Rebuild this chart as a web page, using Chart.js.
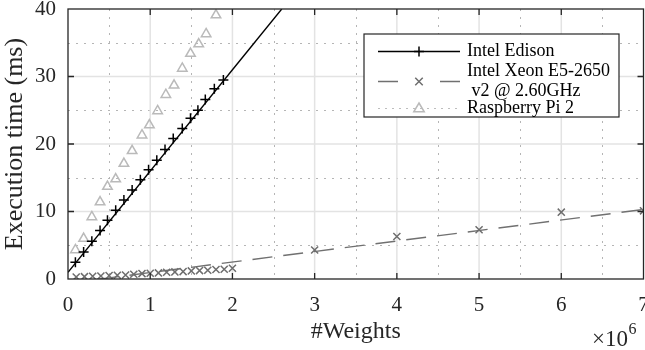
<!DOCTYPE html>
<html>
<head>
<meta charset="utf-8">
<script src="https://cdn.jsdelivr.net/npm/chart.js@4/dist/chart.umd.min.js"></script>
<style>
  html, body { margin: 0; padding: 0; background: #fff; }
  #wrap { width: 645px; height: 350px; }
</style>
</head>
<body>
<div id="wrap"><canvas id="chart" width="645" height="350"></canvas></div>
<script>
// Data (x in millions of weights, y in ms)
const edisonWeights = [0.09, 0.19, 0.29, 0.39, 0.48, 0.58, 0.68, 0.78, 0.88, 0.98, 1.08, 1.18, 1.28, 1.39, 1.49, 1.58, 1.67, 1.78, 1.89];
const edisonTime    = [2.5, 4.0, 5.6, 7.2, 8.7, 10.2, 11.7, 13.2, 14.7, 16.2, 17.6, 19.2, 20.8, 22.3, 23.8, 25.0, 26.6, 28.2, 29.5];

const xeonWeights = [0.1, 0.2, 0.3, 0.4, 0.5, 0.6, 0.7, 0.8, 0.9, 1.0, 1.1, 1.2, 1.3, 1.4, 1.5, 1.6, 1.7, 1.8, 1.9, 2.0, 3, 4, 5, 6, 7];
const xeonTime    = [0.3, 0.35, 0.4, 0.45, 0.5, 0.55, 0.6, 0.7, 0.8, 0.85, 0.9, 1.0, 1.05, 1.1, 1.2, 1.25, 1.3, 1.4, 1.45, 1.6, 4.3, 6.3, 7.3, 9.9, 10.1];

const piWeights = [0.09, 0.19, 0.29, 0.39, 0.48, 0.58, 0.68, 0.78, 0.90, 0.99, 1.09, 1.19, 1.29, 1.39, 1.49, 1.59, 1.68, 1.80];
const piTime    = [4.3, 6.0, 9.2, 11.4, 13.7, 14.8, 17.1, 19.0, 21.3, 22.8, 24.9, 27.3, 28.7, 31.2, 33.4, 34.8, 36.3, 39.1];

// linear fits drawn in the figure (end points)
const edisonFitX = [0, 2.6];
const edisonFitY = [1.0, 40];
const xeonFitX = [0, 7];
const xeonFitY = [-0.6, 10.3];

const xTickLabels = ['0', '1', '2', '3', '4', '5', '6', '7'];
const yTickLabels = ['0', '10', '20', '30', '40'];
const seriesLabels = ['Intel Edison', 'Intel Xeon E5-2650\n v2 @ 2.60GHz', 'Raspberry Pi 2'];

const FONT = "'Liberation Serif', 'Times New Roman', serif";
const AXIS_COLOR = '#262626';

function toPoints(xs, ys) {
    return xs.map((x, i) => ({ x: x, y: ys[i] }));
}

/**
 * Draw one legend marker by style name
 */
function drawMarker(ctx, style, x, y, r) {
    ctx.beginPath();
    if (style === 'cross') {
        ctx.moveTo(x - r, y); ctx.lineTo(x + r, y);
        ctx.moveTo(x, y - r); ctx.lineTo(x, y + r);
    } else if (style === 'crossRot') {
        const d = r * 0.75;
        ctx.moveTo(x - d, y - d); ctx.lineTo(x + d, y + d);
        ctx.moveTo(x + d, y - d); ctx.lineTo(x - d, y + d);
    } else if (style === 'triangle') {
        ctx.moveTo(x, y - r);
        ctx.lineTo(x + r * 0.95, y + r * 0.6);
        ctx.lineTo(x - r * 0.95, y + r * 0.6);
        ctx.closePath();
    }
    ctx.stroke();
}

// Grid lines (major solid, minor dotted) under the data, box + inward ticks over it
const gridPlugin = {
    id: 'matlabGrid',
    beforeDatasetsDraw(chart) {
        const { ctx, chartArea: a, scales: { x, y } } = chart;
        ctx.save();
        ctx.lineWidth = 1;
        // minor
        ctx.strokeStyle = '#b5b5b5';
        ctx.setLineDash([2, 6]);
        for (let v = 0.5; v < 7; v += 1) {
            const px = Math.round(x.getPixelForValue(v)) + 0.5;
            ctx.beginPath(); ctx.moveTo(px, a.top); ctx.lineTo(px, a.bottom); ctx.stroke();
        }
        for (let v = 5; v < 40; v += 10) {
            const py = Math.round(y.getPixelForValue(v)) + 0.5;
            ctx.beginPath(); ctx.moveTo(a.left, py); ctx.lineTo(a.right, py); ctx.stroke();
        }
        // major
        ctx.setLineDash([]);
        ctx.strokeStyle = '#e3e3e3';
        ctx.lineWidth = 1.5;
        for (let v = 1; v < 7; v++) {
            const px = x.getPixelForValue(v);
            ctx.beginPath(); ctx.moveTo(px, a.top); ctx.lineTo(px, a.bottom); ctx.stroke();
        }
        for (let v = 10; v < 40; v += 10) {
            const py = y.getPixelForValue(v);
            ctx.beginPath(); ctx.moveTo(a.left, py); ctx.lineTo(a.right, py); ctx.stroke();
        }
        ctx.restore();
    },
    afterDatasetsDraw(chart) {
        const { ctx, chartArea: a, scales: { x, y } } = chart;
        ctx.save();
        ctx.strokeStyle = AXIS_COLOR;
        ctx.lineWidth = 1.3;
        ctx.strokeRect(a.left, a.top, a.right - a.left, a.bottom - a.top);
        const tl = 6;
        ctx.beginPath();
        for (let v = 1; v < 7; v++) {
            const px = x.getPixelForValue(v);
            ctx.moveTo(px, a.bottom); ctx.lineTo(px, a.bottom - tl);
            ctx.moveTo(px, a.top); ctx.lineTo(px, a.top + tl);
        }
        for (let v = 10; v < 40; v += 10) {
            const py = y.getPixelForValue(v);
            ctx.moveTo(a.left, py); ctx.lineTo(a.left + tl, py);
            ctx.moveTo(a.right, py); ctx.lineTo(a.right - tl, py);
        }
        ctx.stroke();
        ctx.restore();
    }
};

// Boxed legend and the x10^6 exponent label
const legendPlugin = {
    id: 'boxLegend',
    afterDraw(chart) {
        const ctx = chart.ctx;
        const ds = chart.data.datasets;
        const box = { x: 364, y: 34, w: 255, h: 83 };
        ctx.save();
        ctx.fillStyle = '#fff';
        ctx.fillRect(box.x, box.y, box.w, box.h);
        ctx.strokeStyle = AXIS_COLOR;
        ctx.lineWidth = 1.2;
        ctx.strokeRect(box.x, box.y, box.w, box.h);

        const lx0 = 378, lx1 = 460, mx = 419, tx = 467;
        const rows = [
            { ds: ds[0], y: 51.5, lines: [51.5] },
            { ds: ds[1], y: 81.5, lines: [71.5, 91.5] },
            { ds: ds[2], y: 108.5, lines: [108.5] }
        ];
        const lineStyles = [
            { color: '#000', dash: [], width: 1.4 },
            { color: '#707070', dash: [20, 42], width: 1.4 },
            { color: '#bdbdbd', dash: [2, 5], width: 1.2 }
        ];
        rows.forEach((row, i) => {
            const ls = lineStyles[i];
            ctx.strokeStyle = ls.color;
            ctx.lineWidth = ls.width;
            ctx.setLineDash(ls.dash);
            ctx.beginPath();
            ctx.moveTo(lx0, row.y); ctx.lineTo(lx1, row.y);
            ctx.stroke();
            ctx.setLineDash([]);
            ctx.strokeStyle = row.ds.borderColor;
            ctx.lineWidth = row.ds.borderWidth;
            drawMarker(ctx, row.ds.pointStyle, mx, row.y, row.ds.pointRadius);

            ctx.fillStyle = '#000';
            ctx.font = '18px ' + FONT;
            ctx.textBaseline = 'middle';
            ctx.textAlign = 'left';
            row.ds.label.split('\n').forEach((t, k) => {
                ctx.fillText(t, tx, row.lines[k]);
            });
        });

        // exponent label under the x axis
        ctx.fillStyle = AXIS_COLOR;
        ctx.textBaseline = 'alphabetic';
        ctx.textAlign = 'left';
        ctx.font = '23px ' + FONT;
        const base = '\u00d710';
        ctx.fillText(base, 592, 346);
        const w = ctx.measureText(base).width;
        ctx.font = '16px ' + FONT;
        ctx.fillText('6', 592 + w + 0.5, 334);
        ctx.restore();
    }
};

const datasets = [
    {
        label: seriesLabels[0],
        data: toPoints(edisonWeights, edisonTime),
        showLine: false,
        pointStyle: 'cross',
        pointRadius: 5,
        borderColor: '#000',
        backgroundColor: '#000',
        borderWidth: 1.5,
        pointBorderWidth: 1.5
    },
    {
        label: seriesLabels[1],
        data: toPoints(xeonWeights, xeonTime),
        showLine: false,
        pointStyle: 'crossRot',
        pointRadius: 5,
        borderColor: '#6e6e6e',
        backgroundColor: '#6e6e6e',
        borderWidth: 1.5,
        pointBorderWidth: 1.5
    },
    {
        label: seriesLabels[2],
        data: toPoints(piWeights, piTime),
        showLine: false,
        pointStyle: 'triangle',
        pointRadius: 5.5,
        borderColor: '#bababa',
        backgroundColor: 'rgba(0,0,0,0)',
        borderWidth: 1.5,
        pointBorderWidth: 1.5
    },
    {
        label: 'Edison fit',
        data: toPoints(edisonFitX, edisonFitY),
        showLine: true,
        pointRadius: 0,
        borderColor: '#000',
        borderWidth: 1.4
    },
    {
        label: 'Xeon fit',
        data: toPoints(xeonFitX, xeonFitY),
        showLine: true,
        pointRadius: 0,
        borderColor: '#707070',
        borderWidth: 1.4,
        borderDash: [20, 11]
    }
];

new Chart(document.getElementById('chart'), {
    type: 'scatter',
    data: { datasets: datasets },
    options: {
        responsive: false,
        animation: false,
        events: [],
        layout: { autoPadding: false, padding: { top: 9, right: 1.5, left: 0, bottom: 0 } },
        plugins: {
            legend: { display: false },
            tooltip: { enabled: false }
        },
        scales: {
            x: {
                type: 'linear',
                min: 0,
                max: 7,
                grid: { display: false, drawTicks: false },
                border: { display: false },
                ticks: {
                    stepSize: 1,
                    padding: 14,
                    color: AXIS_COLOR,
                    font: { family: FONT, size: 21 },
                    maxRotation: 0,
                    callback: (v) => xTickLabels[v]
                },
                title: {
                    display: true,
                    text: '#Weights',
                    color: AXIS_COLOR,
                    font: { family: FONT, size: 24 },
                    padding: { top: 0, bottom: 4 }
                },
                afterFit: (scale) => {
                    scale.height = 71;
                    scale.paddingLeft = 0;
                    scale.paddingRight = 0;
                }
            },
            y: {
                min: 0,
                max: 40,
                grid: { display: false, drawTicks: false },
                border: { display: false },
                ticks: {
                    stepSize: 10,
                    padding: 12,
                    color: AXIS_COLOR,
                    font: { family: FONT, size: 21 },
                    callback: (v) => yTickLabels[v / 10]
                },
                title: {
                    display: true,
                    text: 'Execution time (ms)',
                    color: AXIS_COLOR,
                    font: { family: FONT, size: 26 },
                    padding: { top: 0, bottom: 0 }
                },
                afterFit: (scale) => {
                    scale.width = 68;
                    scale.paddingTop = 0;
                    scale.paddingBottom = 0;
                }
            }
        }
    },
    plugins: [gridPlugin, legendPlugin]
});
</script>
</body>
</html>
